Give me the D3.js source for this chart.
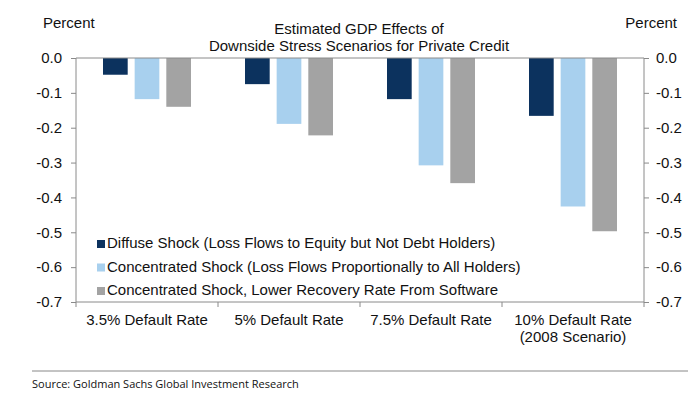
<!DOCTYPE html>
<html><head><meta charset="utf-8">
<script src="https://cdn.jsdelivr.net/npm/d3@7"></script>
<style>body{margin:0;background:#fff}svg{display:block}text{font-family:"Liberation Sans",Arial,sans-serif;fill:#111}</style>
</head><body><svg id="c" width="700" height="394"></svg>
<script>
const categories = [["3.5% Default Rate"],["5% Default Rate"],["7.5% Default Rate"],["10% Default Rate","(2008 Scenario)"]];
const seriesNames = ["Diffuse Shock (Loss Flows to Equity but Not Debt Holders)","Concentrated Shock (Loss Flows Proportionally to All Holders)","Concentrated Shock, Lower Recovery Rate From Software"];
const diffuse = [-0.048, -0.075, -0.118, -0.166];
const concentrated = [-0.118, -0.189, -0.308, -0.426];
const lowerRecovery = [-0.140, -0.222, -0.359, -0.497];
const yTicks = [0,-0.1,-0.2,-0.3,-0.4,-0.5,-0.6,-0.7];
const colors = ["#0c325e","#a8d0ee","#a3a3a3"];
const series = [diffuse, concentrated, lowerRecovery];

const svg = d3.select("#c");
const L=76, R=644, T=58, B=302;
const x0 = d3.scaleBand().domain(d3.range(categories.length)).range([L,R]).paddingInner(0).paddingOuter(0);
const x1 = d3.scaleBand().domain(d3.range(series.length)).range([27, x0.bandwidth()-27]).paddingInner(0.22).paddingOuter(0);
const y = d3.scaleLinear().domain([0,-0.7]).range([T,B]);

// bars
series.forEach((s,si)=>{
  svg.append("g").selectAll("rect").data(s).join("rect")
    .attr("x",(d,i)=>x0(i)+x1(si)).attr("width",x1.bandwidth())
    .attr("y",d=>y(0)).attr("height",d=>y(d)-y(0)).attr("fill",colors[si]);
});

const axisColor="#8a8a8a";
const fmt=d=>d3.format(".1f")(d).replace("\u2212","-");
const la = svg.append("g").attr("transform",`translate(${L},0)`).call(d3.axisLeft(y).tickValues(yTicks).tickFormat(fmt).tickSize(5).tickPadding(9));
const ra = svg.append("g").attr("transform",`translate(${R},0)`).call(d3.axisRight(y).tickValues(yTicks).tickFormat(fmt).tickSize(5).tickPadding(7));
[la,ra].forEach(a=>{a.select(".domain").attr("stroke",axisColor).attr("d",`M0,${T}V${B}`);a.selectAll(".tick line").attr("stroke",axisColor);a.selectAll("text").attr("font-size",15).attr("fill","#111").attr("font-family","Liberation Sans, Arial, sans-serif");});
// zero & bottom lines
svg.append("line").attr("x1",L).attr("x2",R).attr("y1",y(0)).attr("y2",y(0)).attr("stroke",axisColor);
svg.append("line").attr("x1",L).attr("x2",R).attr("y1",y(-0.7)).attr("y2",y(-0.7)).attr("stroke",axisColor);
// category ticks
svg.append("g").selectAll("line").data(d3.range(categories.length+1)).join("line")
  .attr("x1",i=>L+i*x0.bandwidth()).attr("x2",i=>L+i*x0.bandwidth()).attr("y1",B).attr("y2",B+5).attr("stroke",axisColor);
// category labels
const cl = svg.append("g").selectAll("text").data(categories).join("text")
  .attr("x",(d,i)=>x0(i)+x0.bandwidth()/2).attr("y",325).attr("text-anchor","middle").attr("font-size",15);
cl.selectAll("tspan").data(d=>d).join("tspan").attr("x",function(){return this.parentNode.getAttribute("x");}).attr("dy",(d,i)=>i?17:0).text(d=>d);

// title
svg.append("text").attr("x",359).attr("y",34).attr("text-anchor","middle").attr("font-size",15).text("Estimated GDP Effects of");
svg.append("text").attr("x",359).attr("y",51).attr("text-anchor","middle").attr("font-size",15).text("Downside Stress Scenarios for Private Credit");
svg.append("text").attr("x",43).attr("y",28).attr("font-size",15).text("Percent");
svg.append("text").attr("x",677).attr("y",28).attr("text-anchor","end").attr("font-size",15).text("Percent");

// legend
const lg = svg.append("g").selectAll("g").data(seriesNames).join("g").attr("transform",(d,i)=>`translate(97,${248+i*23.5})`);
lg.append("rect").attr("x",0).attr("y",-8).attr("width",8).attr("height",8).attr("fill",(d,i)=>colors[i]);
lg.append("text").attr("x",10).attr("y",0).attr("font-size",15).text(d=>d);

// footer
svg.append("line").attr("x1",32).attr("x2",688).attr("y1",371).attr("y2",371).attr("stroke","#888");
svg.append("text").attr("x",32).attr("y",388).attr("font-size",11).style("font-family","'Open Sans',sans-serif").attr("fill","#333").text("Source: Goldman Sachs Global Investment Research");
</script></body></html>
